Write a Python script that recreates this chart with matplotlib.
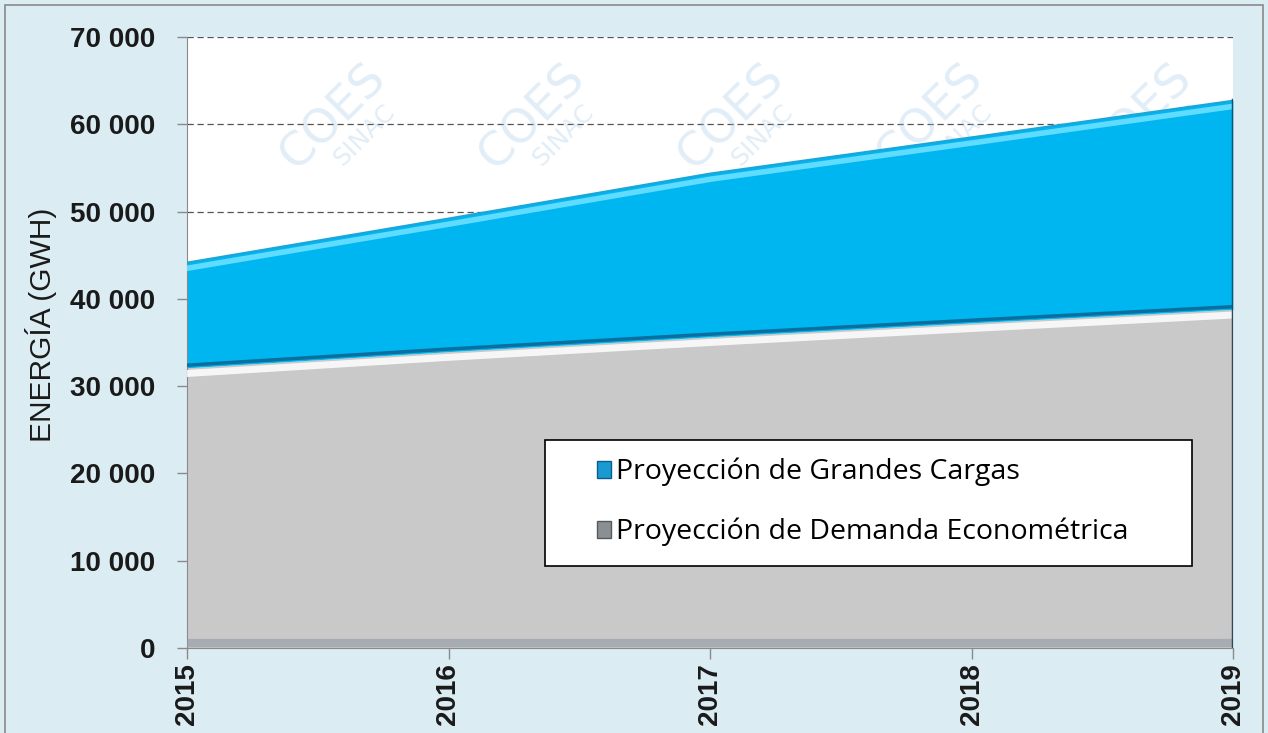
import numpy as np
import matplotlib
matplotlib.use('Agg')
import matplotlib.pyplot as plt
from matplotlib.patches import Rectangle

years = [2015, 2016, 2017, 2018, 2019]
demanda = [32100, 33950, 35650, 37250, 38800]
grandes = [12150, 15350, 18800, 21350, 24000]
labels = ['Proyección de Grandes Cargas', 'Proyección de Demanda Econométrica']
yticks = [0, 10000, 20000, 30000, 40000, 50000, 60000, 70000]

bg = '#dbecf3'
blue = '#00b6f0'
grey = '#c9c9c9'
arial = ['Liberation Sans', 'DejaVu Sans']

fig = plt.figure(figsize=(12.68, 7.33), dpi=100, facecolor=bg)
fig.patches.append(Rectangle((0.004, -0.01), 0.992, 1.003, transform=fig.transFigure,
                             fill=False, edgecolor='#8a8a8a', lw=1.2))
ax = fig.add_axes([187/1268, 1-648/733, (1233-187)/1268, (648-37)/733])
ax.set_facecolor('white')

x = np.array(years)
d = np.array(demanda)
tot = d + np.array(grandes)

ax.fill_between(x, 0, d, color=grey, lw=0, zorder=2)
ax.fill_between(x, d, tot, color=blue, lw=0, zorder=2)
# bevel-ish edges
ax.plot(x, d - 650, color='white', lw=5, alpha=0.85, zorder=3)
ax.plot(x, d + 300, color='#0a6f9e', lw=2.5, zorder=3)
ax.plot(x, tot - 750, color='#5fdcff', lw=4, zorder=3)
ax.plot(x, tot - 100, color='#1aa6d8', lw=1.5, zorder=3)
ax.plot(x, np.full(len(x), 600), color='#8f9aa3', lw=6, alpha=0.6, zorder=3)
ax.plot([x[-1], x[-1]], [0, tot[-1]], color='#2b4a5e', lw=2.5, zorder=3)

# watermark
for xp in [0.08, 0.27, 0.46, 0.65, 0.85]:
    ax.text(xp + 0.06, 0.87, 'COES', transform=ax.transAxes, rotation=45,
            fontsize=34, color='#9cc3e6', alpha=0.3, ha='center', va='center',
            zorder=1, clip_on=True)
    ax.text(xp + 0.09, 0.84, 'SINAC', transform=ax.transAxes, rotation=45,
            fontsize=18, color='#9cc3e6', alpha=0.3, ha='center', va='center',
            zorder=1, clip_on=True)

ax.set_xlim(2015, 2019)
ax.set_ylim(0, 70000)
ax.set_yticks(yticks)
ax.set_yticklabels([f'{v:,}'.replace(',', ' ') for v in yticks],
                   fontsize=20, fontweight='bold', family=arial, color='#1a1a1a')
ax.set_xticks(years)
ax.set_xticklabels([str(y) for y in years], rotation=90, fontsize=20,
                   fontweight='bold', family=arial, color='#1a1a1a')
ax.tick_params(axis='y', length=7, width=1, color='#8a8a8a', pad=16)
ax.tick_params(axis='x', length=8, width=1, color='#8a8a8a', pad=3)
ax.grid(axis='y', linestyle=(0, (5, 3)), color='#555555', lw=0.9, zorder=0)
ax.set_axisbelow(True)
for s in ['top', 'right']:
    ax.spines[s].set_visible(False)
for s in ['left', 'bottom']:
    ax.spines[s].set_color('#8a8a8a')

ax.set_ylabel('ENERGÍA (GWH)', fontsize=21.5, family=arial, color='#1a1a1a')
ax.yaxis.set_label_coords((57-187)/1046, 1-(325-37)/611)

# legend frame drawn separately, items placed inside
fx0, fy0 = (545-187)/1046, 1-(566-37)/611
fw, fh = (1192-545)/1046, (566-440)/611
ax.add_patch(Rectangle((fx0, fy0), fw, fh, transform=ax.transAxes, facecolor='white',
                       edgecolor='black', lw=1.2, zorder=5))
h1 = Rectangle((0, 0), 1, 1, facecolor='#1a9ad0', edgecolor='#0a5f8a')
h2 = Rectangle((0, 0), 1, 1, facecolor='#8a8f94', edgecolor='#555a5e')
leg = ax.legend([h1, h2], labels, loc='upper left',
                bbox_to_anchor=((597-187)/1046, 1-(458-37)/611),
                frameon=False, handlelength=0.5, handleheight=0.55, handletextpad=0.15,
                labelspacing=1.1, borderpad=0, borderaxespad=0,
                prop={'family': ['Open Sans', 'DejaVu Sans'], 'size': 20.5})
leg.set_zorder(6)

fig.savefig('out.png', dpi=100, facecolor=bg)
